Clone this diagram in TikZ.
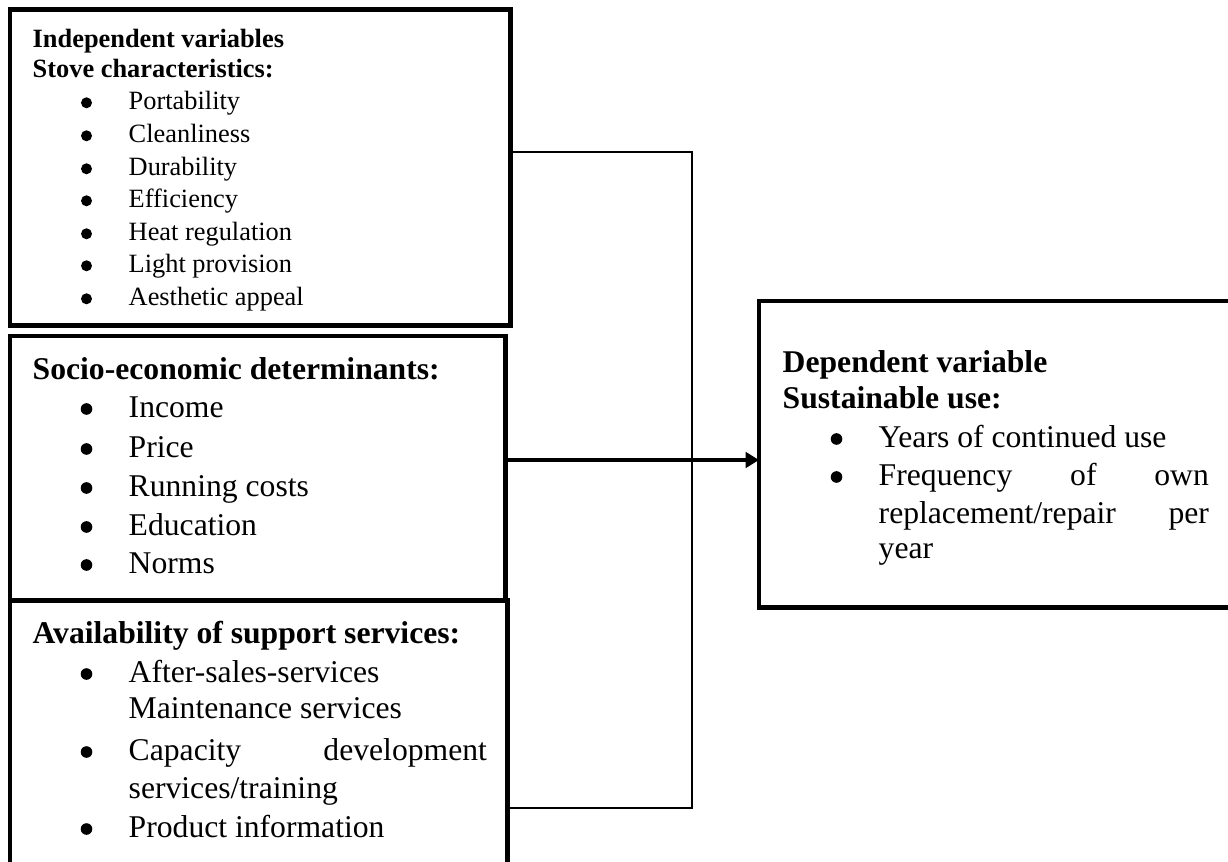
\documentclass[tikz,border=0pt]{standalone}
\usepackage{fontspec}
\setmainfont{Liberation Serif}
\usetikzlibrary{arrows.meta}

\newcommand{\itm}[1]{\hspace{0.47cm}#1}

\begin{document}
\begin{tikzpicture}[
    x=0.01cm,
    y=-0.01cm,
    frame/.style={
        draw,
        line width=1.4pt,
        outer sep=0pt,
        inner sep=0pt,
        anchor=north west
    },
    small/.style={
        anchor=base west,
        inner sep=0pt,
        font=\fontsize{7.5}{9}\selectfont
    },
    smallhead/.style={
        small,
        font=\fontsize{7.5}{9}\selectfont\bfseries
    },
    txt/.style={
        anchor=base west,
        inner sep=0pt,
        font=\fontsize{9}{11}\selectfont
    },
    head/.style={
        txt,
        font=\fontsize{9}{11}\selectfont\bfseries
    },
    link/.style={
        draw,
        line width=0.45pt
    },
    flow/.style={
        draw,
        line width=1.3pt,
        -{Triangle[length=3.8pt,width=4.4pt]}
    }
]
\useasboundingbox (0,0) rectangle (1228,861);

% =====================
% Cajas
% =====================
\node[frame, minimum width=5cm,    minimum height=3.155cm] (stove)   at (10,9.5) {};
\node[frame, minimum width=4.95cm, minimum height=2.64cm]  (socio)   at (10,336) {};
\node[frame, minimum width=4.97cm, minimum height=3cm]     (support) at (10,600) {};
\node[frame, minimum width=4.95cm, minimum height=3.06cm]  (use)     at (759,301) {};

% =====================
% Conectores
% =====================
\coordinate (jtop) at (692,152);
\coordinate (jbot) at (692,808);
\coordinate (aim)  at (0,460);
\draw[link] (stove.east |- jtop) -- (jtop) -- (jbot) -- (support.east |- jbot);
\draw[flow] (socio.east |- aim) -- (use.west |- aim);

% =====================
% Stove characteristics
% =====================
\node[smallhead] (indep)   at (32,48)  {Independent variables};
\node[smallhead] (stovehd) at (32,78)  {Stove characteristics:};
\node[small]     (port)    at (81,110) {\itm{Portability}};
\node[small]     (clean)   at (81,143) {\itm{Cleanliness}};
\node[small]     (dura)    at (81,176) {\itm{Durability}};
\node[small]     (effi)    at (81,208) {\itm{Efficiency}};
\node[small]     (heat)    at (81,241) {\itm{Heat regulation}};
\node[small]     (light)   at (81,273) {\itm{Light provision}};
\node[small]     (aest)    at (81,306) {\itm{Aesthetic appeal}};

% =====================
% Socio-economic determinants
% =====================
\node[head] (sochd)   at (32,379) {Socio-economic determinants:};
\node[txt]  (income)  at (81,417) {\itm{Income}};
\node[txt]  (price)   at (81,457) {\itm{Price}};
\node[txt]  (running) at (81,496) {\itm{Running costs}};
\node[txt]  (educ)    at (81,535) {\itm{Education}};
\node[txt]  (norms)   at (81,573) {\itm{Norms}};

% =====================
% Support services
% =====================
\node[head] (suphd)   at (32,643)  {Availability of support services:};
\node[txt]  (after)   at (81,682)  {\itm{After-sales-services}};
\node[txt]  (maint)   at (128,718) {Maintenance services};
\node[txt]  (cap)     at (81,760)  {\itm{\makebox[3.58cm][s]{Capacity development}}};
\node[txt]  (train)   at (128,798) {services/training};
\node[txt]  (prod)    at (81,837)  {\itm{Product information}};

% =====================
% Sustainable use
% =====================
\node[head] (dep)     at (782,372) {Dependent variable};
\node[head] (usehd)   at (782,408) {Sustainable use:};
\node[txt]  (years)   at (831,447) {\itm{Years of continued use}};
\node[txt]  (freq)    at (831,485) {\itm{\makebox[3.3cm][s]{Frequency of own}}};
\node[txt]  (repl)    at (878,523) {\makebox[3.3cm][s]{replacement/repair per}};
\node[txt]  (year)    at (878,558) {year};

% =====================
% Vinetas
% =====================
\foreach \n in {port,clean,dura,effi,heat,light,aest}
    \fill ([xshift=0.055cm, yshift=0.072cm]\n.base west) circle (0.055cm);
\foreach \n in {income,price,running,educ,norms,after,cap,prod,years,freq}
    \fill ([xshift=0.055cm, yshift=0.08cm]\n.base west) circle (0.058cm);

\end{tikzpicture}
\end{document}
